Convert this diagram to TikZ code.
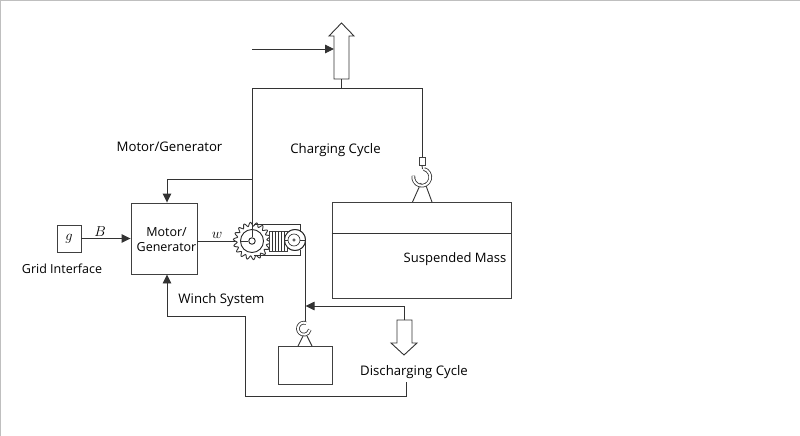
\documentclass[tikz,border=0pt]{standalone}
\usepackage{fontspec}
\setmainfont{Open Sans}
\usetikzlibrary{positioning, arrows.meta}

\begin{document}
\begin{tikzpicture}[x=1pt,y=-1pt,>={Triangle[length=9pt,width=8.5pt]},font=\fontsize{13.2}{15}\selectfont,line width=0.9pt]
	
	\tikzstyle{block}=[draw=black!75,inner sep=0pt]
	\tikzstyle{label}=[inner sep=0pt]
	\tikzstyle{wire}=[draw=black!80]
	\tikzstyle{round}=[draw=black!85,circle,inner sep=0pt]
	\tikzstyle{thin round}=[round,line width=0.6pt]
	\tikzstyle{hook}=[draw=black!80,double=white,double distance=2pt,line width=0.8pt]
	\tikzstyle{symbol}=[inner sep=0pt,font=\fontsize{15}{17}\selectfont]
	
	\useasboundingbox (0,0) rectangle (800,436);
	\draw[black!25] (0,0) rectangle (800,436);
	
	\node[block,minimum width=24pt,minimum height=27pt,symbol] (grid) at (69,238.5) {$g$};
	\node[block,minimum width=66pt,minimum height=71pt] (motor) at (164,238.5) {};
	\node[block,minimum width=179pt,minimum height=96pt] (mass) at (421.5,250) {};
	\node[block,minimum width=54pt,minimum height=38pt] (load) at (305,365) {};
	
	\node[round,minimum size=23pt] (gear) at (252,241) {};
	\node[round,minimum size=6.5pt] (hub) at (252,241) {};
	\node[round,minimum size=21pt] (pulley) at (295,240) {};
	\node[thin round,minimum width=12pt,minimum height=8pt] (axle) at (294,240) {};
	\node[thin round,minimum size=2.5pt] (pin) at (294,240) {};
	\node[block,minimum width=18pt,minimum height=20pt] (drum) at (278,241) {};
	\node[block,minimum width=6pt,minimum height=8pt] (link) at (422,161) {};
	
	\node[label,align=center,font=\fontsize{12.5}{15}\selectfont] (motortext) at (166.5,240) {Motor/\\Generator};
	\node[symbol] at (100,232) {$B$};
	\node[symbol] at (217,235) {$w$};
	\node[label,font=\fontsize{12.5}{15}\selectfont] at (62,269) {Grid Interface};
	\node[label] at (169.5,147) {Motor/Generator};
	\node[label] at (335.5,150) {Charging Cycle};
	\node[label] at (221.5,300) {Winch System};
	\node[label,font=\fontsize{13}{15}\selectfont] at (455,259) {Suspended Mass};
	\node[label] at (414,372) {Discharging Cycle};
	
	\coordinate (topleft) at (252,88);
	\coordinate (topmid) at (341.5,88);
	\coordinate (topright) at (422,88);
	\coordinate (feed) at (252,49);
	\coordinate (feedend) at (334,49);
	\coordinate (branch) at (252,179);
	\coordinate (branchleft) at (167,179);
	\coordinate (rope) at (305,240);
	\coordinate (ropeend) at (305,323);
	\coordinate (ropemid) at (305.5,306);
	\coordinate (back) at (404,320);
	\coordinate (backtop) at (404,306);
	\coordinate (ret) at (406,382);
	\coordinate (retb) at (406,396);
	\coordinate (retc) at (245,396);
	\coordinate (retd) at (245,316);
	\coordinate (rete) at (167,316);
	
	\draw[wire,fill=white] (341.5,23) -- (354,36) -- (349,36) -- (349,79) -- (334,79) -- (334,36) -- (329,36) -- cycle;
	\draw[wire,fill=white] (397,320) -- (412,320) -- (412,343) -- (417,343) -- (404,355) -- (391,343) -- (397,343) -- cycle;
	
	\draw[wire] (topleft) -- (topright) -- (link.north);
	\draw[wire] (341.5,79) -- (topmid);
	\draw[wire,->] (feed) -- (feedend);
	\draw[wire,->] (branch) -- (branchleft) -- (motor.north -| branchleft);
	\draw[wire,->] (grid) -- (motor);
	\draw[wire] (motor.east |- hub) -- (hub);
	\draw[wire] (rope) -- (ropeend);
	\draw[wire,->] (back) -- (backtop) -- (ropemid);
	\draw[wire,->] (ret) -- (retb) -- (retc) -- (retd) -- (rete) -- (motor.south -| rete);
	
	\draw[black!80,fill=white] plot[smooth cycle,samples=144,domain=0:357.5,variable=\t] ({252+(16.8+1.9*sin(18*\t))*cos(\t)},{241+(16.8+1.9*sin(18*\t))*sin(\t)});
	\node[round,minimum size=23pt] at (gear) {};
	\node[round,minimum size=6.5pt] at (hub) {};
	\draw[wire] (gear.west) -- (hub.west);
	\draw[wire] (topleft) -- (hub.north);
	
	\draw[wire] (254,224.5) -- (300,224.5) -- (300,231);
	\draw[wire] (254,255.5) -- (300,255.5) -- (300,250);
	\node[block,fill=white,minimum width=18pt,minimum height=20pt] at (drum) {};
	\foreach \i in {272,275,278,281,284}
		\draw[black!80] (\i,231) -- (\i,251);
	\node[round,fill=white,minimum size=21pt] at (pulley) {};
	\node[thin round,minimum width=12pt,minimum height=8pt] at (axle) {};
	\node[thin round,minimum size=2.5pt] at (pin) {};
	\draw[wire,line width=0.6pt] (pulley.west) -- (axle.west) (axle.east) -- (pulley.east);
	
	\draw[wire] (mass.west |- 0,233) -- (mass.east |- 0,233);
	
	\draw[wire] (link.south) -- (422.5,169);
	\draw[wire] (421,183) -- (412.5,202) (425,183) -- (432,202);
	\draw[hook] (424,169) arc[start angle=-75,end angle=190,radius=8.5];
	
	\draw[wire] (303,336) -- (298,346) (307,336) -- (312,346);
	\draw[hook] (306,323) arc[start angle=-70,end angle=-350,radius=6];
	
\end{tikzpicture}
\end{document}
